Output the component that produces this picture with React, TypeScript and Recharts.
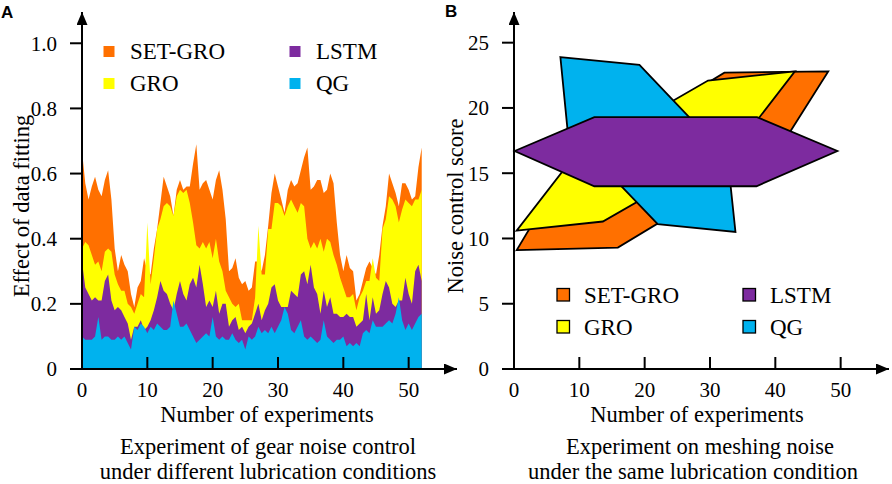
import React from 'react';
import { AreaChart, Area, ScatterChart, Scatter, XAxis, YAxis } from 'recharts';

const seriesNames = ['SET-GRO', 'GRO', 'LSTM', 'QG'];
const seriesColors = ['#FF7000', '#FFFF00', '#7D2B9F', '#00B2EE'];

// Panel A: effect of data fitting, one reading every 0.5 experiments (0 .. 52)
const setGroFit = [
  0.67, 0.57, 0.52, 0.56, 0.59, 0.55, 0.53, 0.58, 0.61, 0.52,
  0.37, 0.30, 0.35, 0.32, 0.30, 0.23, 0.19, 0.25, 0.27, 0.34,
  0.30, 0.29, 0.37, 0.43, 0.51, 0.59, 0.56, 0.53, 0.47, 0.55,
  0.58, 0.55, 0.56, 0.56, 0.63, 0.69, 0.55, 0.57, 0.58, 0.55,
  0.52, 0.58, 0.61, 0.55, 0.46, 0.30, 0.31, 0.34, 0.28, 0.26,
  0.27, 0.24, 0.25, 0.33, 0.33, 0.30, 0.35, 0.44, 0.54, 0.60,
  0.56, 0.52, 0.48, 0.55, 0.58, 0.56, 0.57, 0.61, 0.65, 0.68,
  0.55, 0.56, 0.58, 0.58, 0.54, 0.55, 0.60, 0.57, 0.45, 0.35,
  0.30, 0.35, 0.31, 0.30, 0.21, 0.23, 0.27, 0.31, 0.33, 0.31,
  0.29, 0.35, 0.44, 0.50, 0.60, 0.57, 0.54, 0.50, 0.57, 0.57,
  0.55, 0.52, 0.53, 0.62, 0.68,
];
const groFit = [
  0.37, 0.39, 0.38, 0.35, 0.32, 0.33, 0.30, 0.36, 0.37, 0.36,
  0.29, 0.26, 0.24, 0.24, 0.20, 0.19, 0.17, 0.20, 0.23, 0.22,
  0.45, 0.26, 0.34, 0.43, 0.46, 0.50, 0.51, 0.50, 0.47, 0.53,
  0.55, 0.54, 0.55, 0.51, 0.45, 0.38, 0.37, 0.39, 0.37, 0.39,
  0.34, 0.40, 0.33, 0.30, 0.24, 0.22, 0.20, 0.19, 0.20, 0.15,
  0.15, 0.15, 0.15, 0.22, 0.44, 0.29, 0.29, 0.43, 0.43, 0.51,
  0.51, 0.50, 0.47, 0.50, 0.52, 0.50, 0.48, 0.51, 0.50, 0.40,
  0.37, 0.39, 0.37, 0.40, 0.36, 0.40, 0.39, 0.35, 0.32, 0.28,
  0.25, 0.22, 0.22, 0.23, 0.18, 0.22, 0.24, 0.27, 0.27, 0.34,
  0.28, 0.27, 0.43, 0.46, 0.53, 0.52, 0.50, 0.45, 0.49, 0.52,
  0.51, 0.50, 0.52, 0.52, 0.55,
];
const lstmFit = [
  0.33, 0.25, 0.23, 0.21, 0.22, 0.21, 0.21, 0.27, 0.29, 0.21,
  0.18, 0.19, 0.18, 0.16, 0.14, 0.09, 0.13, 0.13, 0.15, 0.12,
  0.13, 0.15, 0.18, 0.22, 0.27, 0.24, 0.23, 0.20, 0.18, 0.23,
  0.27, 0.23, 0.21, 0.26, 0.28, 0.25, 0.32, 0.26, 0.19, 0.21,
  0.19, 0.24, 0.17, 0.20, 0.20, 0.13, 0.15, 0.16, 0.12, 0.13,
  0.11, 0.13, 0.14, 0.17, 0.20, 0.15, 0.18, 0.20, 0.25, 0.26,
  0.21, 0.19, 0.19, 0.19, 0.24, 0.23, 0.22, 0.29, 0.30, 0.26,
  0.32, 0.25, 0.23, 0.17, 0.24, 0.19, 0.22, 0.17, 0.17, 0.16,
  0.16, 0.17, 0.16, 0.16, 0.13, 0.14, 0.15, 0.23, 0.15, 0.22,
  0.17, 0.18, 0.23, 0.27, 0.25, 0.20, 0.19, 0.21, 0.21, 0.28,
  0.23, 0.20, 0.30, 0.32, 0.27,
];
const qgFit = [
  0.10, 0.09, 0.09, 0.09, 0.10, 0.16, 0.09, 0.10, 0.10, 0.09,
  0.09, 0.10, 0.09, 0.10, 0.08, 0.06, 0.13, 0.12, 0.14, 0.13,
  0.11, 0.13, 0.12, 0.14, 0.13, 0.12, 0.12, 0.13, 0.21, 0.17,
  0.13, 0.13, 0.14, 0.12, 0.10, 0.08, 0.09, 0.10, 0.11, 0.10,
  0.16, 0.10, 0.09, 0.10, 0.09, 0.09, 0.11, 0.09, 0.08, 0.09,
  0.06, 0.10, 0.09, 0.10, 0.13, 0.11, 0.12, 0.11, 0.13, 0.11,
  0.13, 0.15, 0.19, 0.17, 0.12, 0.11, 0.13, 0.15, 0.10, 0.09,
  0.10, 0.09, 0.08, 0.09, 0.15, 0.10, 0.09, 0.08, 0.09, 0.09,
  0.10, 0.07, 0.08, 0.07, 0.08, 0.07, 0.11, 0.12, 0.11, 0.15,
  0.13, 0.13, 0.13, 0.14, 0.15, 0.14, 0.17, 0.22, 0.15, 0.12,
  0.14, 0.12, 0.14, 0.16, 0.17,
];
const experiments = setGroFit.map((_, i) => i * 0.5);

const fitTicks = [0, 0.2, 0.4, 0.6, 0.8, 1.0];
const experimentTicks = [0, 10, 20, 30, 40, 50];
const scoreTicks = [0, 5, 10, 15, 20, 25];

// Panel B: outline of each method's region (number of experiments, noise control score)
const setGroScore = [[0.4, 9.1], [15.9, 9.3], [40.4, 16.7], [48.1, 22.8], [32.2, 22.7], [7.8, 15.3]];
const groScore = [[0.4, 10.6], [13.6, 11.3], [34.5, 17.3], [43.0, 22.8], [29.7, 22.1], [8.9, 16.1]];
const lstmScore = [[0.1, 16.7], [12.3, 19.3], [37.2, 19.3], [49.5, 16.7], [37.1, 14.0], [12.3, 14.0]];
const qgScore = [[7.1, 23.9], [19.2, 23.3], [32.7, 16.2], [33.9, 10.5], [22.0, 11.1], [8.2, 18.3]];

const serif = "Liberation Serif, Tinos, Times New Roman, DejaVu Serif, serif";
const sans = "Liberation Sans, Arial, sans-serif";

const fitRows = experiments.map((x, i) => ({
  x,
  setGro: setGroFit[i],
  gro: groFit[i],
  lstm: lstmFit[i],
  qg: qgFit[i],
}));

const toPoints = (shape: number[][]) => shape.map(([x, y]) => ({ x, y }));
const scoreShapes = [setGroScore, groScore, qgScore, lstmScore];
const scoreColors = [seriesColors[0], seriesColors[1], seriesColors[3], seriesColors[2]];

const XTick = (props: any) => {
  const { x, y, payload } = props;
  return (
    <g>
      {payload.value !== 0 && <line x1={x} x2={x} y1={y} y2={y - 12} stroke="#000" strokeWidth={2} />}
      <text x={x} y={y + 28} textAnchor="middle" fill="#000" style={{ fontFamily: serif, fontSize: 21 }}>
        {payload.value}
      </text>
    </g>
  );
};

const polygonLine = (color: string) => (props: any) => (
  <polygon
    points={props.points.map((p: any) => `${p.x},${p.y}`).join(' ')}
    fill={color}
    stroke="#000"
    strokeWidth={1.8}
    strokeLinejoin="miter"
  />
);

const yAxisLine = { stroke: '#000', strokeWidth: 2, markerStart: 'url(#axisArrow)' };
const xAxisLine = { stroke: '#000', strokeWidth: 2, markerEnd: 'url(#axisArrow)' };
const yTick = { fill: '#000', fontSize: 21, style: { fontFamily: serif } };

const T = (props: any) => <text {...props} style={{ fontFamily: serif, fontSize: 22.5 }} />;

const Overlay = () => (
  <svg width={892} height={484} style={{ position: 'absolute', left: 0, top: 0, pointerEvents: 'none' }}>
    <defs>
      <marker
        id="axisArrow"
        viewBox="0 0 13 11"
        refX={13}
        refY={5.5}
        markerWidth={13}
        markerHeight={11}
        markerUnits="userSpaceOnUse"
        orient="auto-start-reverse"
      >
        <path d="M0,0 L13,5.5 L0,11 z" fill="#000" />
      </marker>
    </defs>
    <text x={1} y={18} style={{ fontFamily: sans, fontSize: 17, fontWeight: 'bold' }}>A</text>
    <text x={445} y={17} style={{ fontFamily: sans, fontSize: 17, fontWeight: 'bold' }}>B</text>

    {/* legends */}
    {seriesNames.map((name, i) => {
      const lx = 103.5 + Math.floor(i / 2) * 186;
      const ly = 46 + (i % 2) * 32;
      return (
        <g key={`a-${name}`}>
          <rect x={lx} y={ly} width={11} height={11} fill={seriesColors[i]} />
          <text x={lx + 26.5} y={ly + 12.5} style={{ fontFamily: serif, fontSize: 23 }}>{name}</text>
        </g>
      );
    })}
    {seriesNames.map((name, i) => {
      const lx = 557 + Math.floor(i / 2) * 186;
      const ly = 288.5 + (i % 2) * 32;
      return (
        <g key={`b-${name}`}>
          <rect x={lx} y={ly} width={12.5} height={12.5} fill={seriesColors[i]} stroke="#000" strokeWidth={1.3} />
          <text x={lx + 27} y={ly + 14} style={{ fontFamily: serif, fontSize: 23 }}>{name}</text>
        </g>
      );
    })}

    {/* axis titles and captions */}
    <T transform="translate(29,206) rotate(-90)" textAnchor="middle">Effect of data fitting</T>
    <T transform="translate(463,206) rotate(-90)" textAnchor="middle">Noise control score</T>
    <T x={267} y={422} textAnchor="middle">Number of experiments</T>
    <T x={268} y={454} textAnchor="middle">Experiment of gear noise control</T>
    <T x={268} y={479} textAnchor="middle">under different lubrication conditions</T>
    <T x={697} y={422} textAnchor="middle">Number of experiments</T>
    <T x={700} y={454} textAnchor="middle">Experiment on meshing noise</T>
    <T x={693} y={479} textAnchor="middle">under the same lubrication condition</T>
  </svg>
);

const App = () => {
  const keys = ['setGro', 'gro', 'lstm', 'qg'];
  return (
    <div style={{ position: 'absolute', left: 0, top: 0, width: 892, height: 484, background: '#fff', fontFamily: serif }}>
      <div style={{ position: 'absolute', left: 0, top: 0 }}>
        <AreaChart width={470} height={484} data={fitRows} margin={{ top: 12, right: 13, bottom: 85, left: 22 }}>
          <XAxis
            type="number"
            dataKey="x"
            domain={[0, 57.4]}
            ticks={experimentTicks}
            interval={0}
            height={30}
            tickSize={0}
            tickMargin={0}
            tickLine={false}
            tick={<XTick />}
            axisLine={xAxisLine}
          />
          <YAxis
            type="number"
            domain={[0, 1.096]}
            ticks={fitTicks}
            interval={0}
            width={60}
            tickSize={12}
            tickMargin={13}
            tickLine={{ stroke: '#000', strokeWidth: 2 }}
            tick={yTick}
            tickFormatter={(v: number) => (v === 0 ? '0' : v.toFixed(1))}
            axisLine={yAxisLine}
          />
          {keys.map((k, i) => (
            <Area
              key={k}
              type="linear"
              dataKey={k}
              name={seriesNames[i]}
              fill={seriesColors[i]}
              fillOpacity={1}
              stroke="none"
              dot={false}
              activeDot={false}
              isAnimationActive={false}
            />
          ))}
        </AreaChart>
      </div>
      <div style={{ position: 'absolute', left: 432, top: 0 }}>
        <ScatterChart width={460} height={484} margin={{ top: 12, right: 3, bottom: 85, left: 22 }}>
          <XAxis
            type="number"
            dataKey="x"
            domain={[0, 57.4]}
            ticks={experimentTicks}
            interval={0}
            height={30}
            tickSize={0}
            tickMargin={0}
            tickLine={false}
            tick={<XTick />}
            axisLine={xAxisLine}
          />
          <YAxis
            type="number"
            dataKey="y"
            domain={[0, 27.35]}
            ticks={scoreTicks}
            interval={0}
            width={60}
            tickSize={12}
            tickMargin={13}
            tickLine={{ stroke: '#000', strokeWidth: 2 }}
            tick={yTick}
            axisLine={yAxisLine}
          />
          {scoreShapes.map((shape, i) => (
            <Scatter
              key={`shape-${i}`}
              data={toPoints(shape)}
              fill={scoreColors[i]}
              line={polygonLine(scoreColors[i])}
              shape={() => <g />}
              isAnimationActive={false}
            />
          ))}
        </ScatterChart>
      </div>
      <Overlay />
    </div>
  );
};

export default App;
